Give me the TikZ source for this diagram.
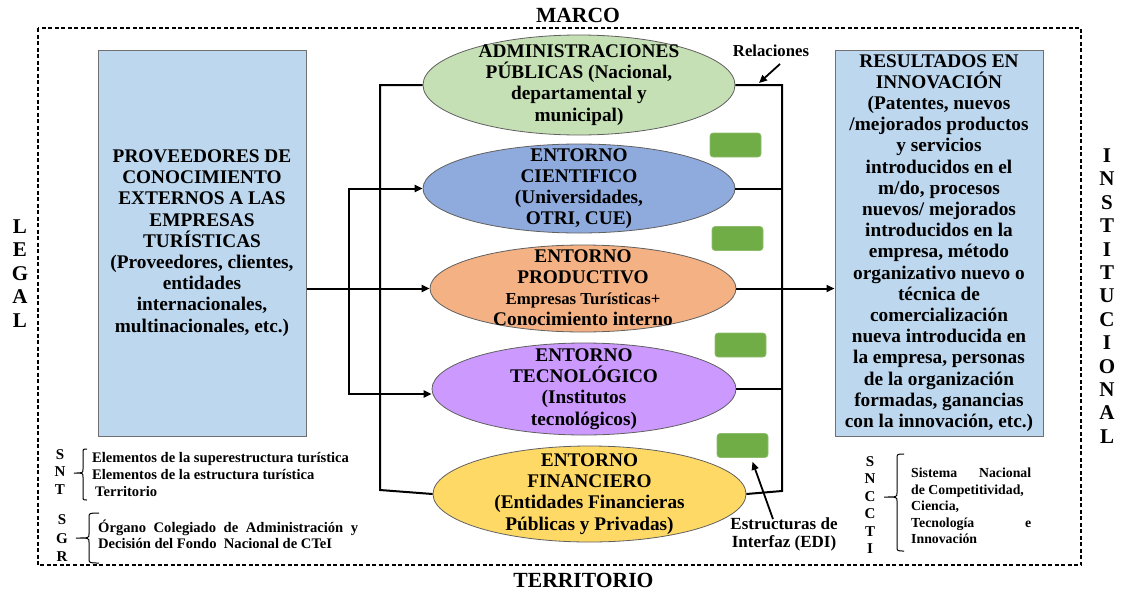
\documentclass[tikz,border=0pt]{standalone}
\usepackage{fontspec}
\setmainfont{Liberation Serif}
\usetikzlibrary{shapes.geometric,arrows.meta,calc}

\definecolor{boxblue}{HTML}{BDD7EE}
\definecolor{boxedge}{HTML}{707070}
\definecolor{elledge}{HTML}{606060}
\definecolor{admgreen}{HTML}{C5E0B4}
\definecolor{cieblue}{HTML}{8FAADC}
\definecolor{prodorange}{HTML}{F4B183}
\definecolor{tecpurple}{HTML}{CC99FF}
\definecolor{finyellow}{HTML}{FFD966}
\definecolor{edigreen}{HTML}{70AD47}

\begin{document}
\begin{tikzpicture}[x=1pt,y=-1pt,
  bigtext/.style={font=\bfseries\fontsize{19.3}{21.2}\selectfont, align=center, inner sep=0pt},
  sidebox/.style={draw=boxedge, line width=1pt, fill=boxblue, minimum width=208pt,
    minimum height=386pt, inner sep=0pt, bigtext},
  entorno/.style={ellipse, draw=elledge, line width=0.8pt, inner sep=0pt},
  edibox/.style={rounded corners=3pt, fill=edigreen, draw=edigreen!80!white, line width=0.6pt,
    minimum width=51pt, minimum height=24pt, inner sep=0pt},
  frametitle/.style={font=\bfseries\fontsize{21.6}{23.4}\selectfont, inner sep=0pt, align=center},
  vertword/.style={font=\bfseries\fontsize{21}{23.4}\selectfont, inner sep=0pt, align=center},
  sysletters/.style={font=\bfseries\fontsize{15}{17.4}\selectfont, inner sep=0pt, align=center},
  smalltext/.style={font=\bfseries\fontsize{14.6}{16.6}\selectfont, inner sep=0pt},
  notetext/.style={font=\bfseries\fontsize{17}{18}\selectfont, inner sep=0pt, align=center},
  link/.style={line width=2pt},
  arrowlink/.style={link, -{Triangle[length=8pt,width=7pt]}},
  bracket/.style={line width=1pt},
]
\useasboundingbox (0,0) rectangle (1122,592);

% outer dashed frame
\draw[line width=1.2pt, dash pattern=on 4pt off 2.5pt] (38,28) rectangle (1081,565);

% frame labels
\node[frametitle] (marco) at (578,15.5) {MARCO};
\node[frametitle] (territorio) at (583.5,580.5) {TERRITORIO};
\node[vertword] (legal) at (20,273.5) {L\\E\\G\\A\\L};
\node[vertword] (institucional) at (1107,296) {I\\N\\S\\T\\I\\T\\U\\C\\I\\O\\N\\A\\L};

% knowledge providers and innovation results
\node[sidebox] (prov) at (202,243) {PROVEEDORES DE\\CONOCIMIENTO\\EXTERNOS A LAS\\EMPRESAS\\TURÍSTICAS\\(Proveedores, clientes,\\entidades\\internacionales,\\multinacionales, etc.)};
\node[sidebox] (res) at (939,243) {RESULTADOS EN\\INNOVACIÓN\\(Patentes, nuevos\\/mejorados productos\\y servicios\\introducidos en el\\m/do, procesos\\nuevos/ mejorados\\introducidos en la\\empresa, método\\organizativo nuevo o\\técnica de\\comercialización\\nueva introducida en\\la empresa, personas\\de la organización\\formadas, ganancias\\con la innovación, etc.)};

% environments
\node[entorno, fill=admgreen, minimum width=312pt, minimum height=100pt] (adm) at (579,85) {};
\node[bigtext] at (adm) {ADMINISTRACIONES\\PÚBLICAS (Nacional,\\departamental y\\municipal)};

\node[entorno, fill=cieblue, minimum width=312pt, minimum height=89pt] (cie) at (579,188.5) {};
\node[bigtext] at (cie) {ENTORNO\\CIENTIFICO\\(Universidades,\\OTRI, CUE)};

\node[entorno, fill=prodorange, minimum width=306pt, minimum height=87pt] (prod) at (583,288.5) {};
\node[bigtext] at ([yshift=1pt]prod.center) {ENTORNO\\PRODUCTIVO\\{\fontsize{16.8}{18.5}\selectfont Empresas Turísticas+}\\Conocimiento interno};

\node[entorno, fill=tecpurple, minimum width=304pt, minimum height=92pt] (tec) at (584,389) {};
\node[bigtext] at (tec) {ENTORNO\\TECNOLÓGICO\\(Institutos\\tecnológicos)};

\node[entorno, fill=finyellow, minimum width=313pt, minimum height=96pt] (fin) at (589.5,494) {};
\node[bigtext] at (fin) {ENTORNO\\FINANCIERO\\(Entidades Financieras\\Públicas y Privadas)};

% interface structures
\node[edibox] (g1) at (735.5,145) {};
\node[edibox] (g2) at (737.5,238.5) {};
\node[edibox] (g3) at (740.5,345) {};
\node[edibox] (g4) at (742.5,445.5) {};

% junction points of the connector bus
\coordinate (jl) at (349,0);
\coordinate (jm) at (380,0);
\coordinate (jmb) at (380,490);
\coordinate (jr) at (782,0);
\coordinate (jrb) at (782,491);
\coordinate (tecin) at ([yshift=-5pt]tec.west);

% left side connectors
\draw[arrowlink] (prov.east |- prod.west) -- (prod.west);
\draw[link] (jl |- cie.west) -- (jl |- tecin);
\draw[arrowlink] ([xshift=-1pt]jl |- cie.west) -- (cie.west);
\draw[arrowlink] ([xshift=-1pt]jl |- tecin) -- (tecin);
\draw[link] (adm.west) -- (jm |- adm.west) -- (jmb) -- (fin.west);

% right side connectors
\draw[link] (adm.east) -- (jr |- adm.east) -- (jrb) -- (fin.east);
\draw[link] (cie.east) -- (jr |- cie.east);
\draw[link] (tec.east) -- (jr |- tec.east);
\draw[arrowlink] (prod.east) -- (res.west |- prod.east);

% annotations
\node[font=\bfseries\fontsize{16.7}{18}\selectfont, inner sep=0pt] (rel) at (771,51) {Relaciones};
\coordinate (relTail) at (780,64);
\coordinate (relTip) at (759,83);
\draw[arrowlink, line width=1.8pt] (relTail) -- (relTip);

\node[notetext] (edi) at (784,534) {Estructuras de\\Interfaz (EDI)};
\draw[arrowlink, line width=1.8pt] ([xshift=-11pt,yshift=-2pt]edi.north) -- ([xshift=10pt,yshift=-4pt]g4.south);

% national systems
\node[sysletters] (snt) at (60,472) {S\\N\\T};
\draw[bracket] (87,449) .. controls (83,449) .. (83,453) -- (83,469) .. controls (83,473) .. (74,473)
  .. controls (83,473) .. (83,477) -- (83,496) .. controls (83,500) .. (87,500);
\node[smalltext, anchor=west, align=left] (sntlist) at (92,474.5)
  {Elementos de la superestructura turística\\Elementos de la estructura turística\\\hspace*{3pt}Territorio};

\node[sysletters, font=\bfseries\fontsize{15}{18.5}\selectfont] (sgr) at (62,538.5) {S\\G\\R};
\draw[bracket] (99,513) .. controls (89,513) .. (89,518) -- (89,534) .. controls (89,538) .. (76,538)
  .. controls (89,538) .. (89,542) -- (89,558) .. controls (89,563) .. (99,563);
\node[smalltext, text width=260pt, align=justify, anchor=west] (sgrtext) at (98,534.5)
  {Órgano\ \ Colegiado\ \ de\ \ Administración\ \ y\linebreak Decisión del Fondo\ \ Nacional de CTeI};

\node[sysletters] (sncti) at (870,505) {S\\N\\C\\C\\T\\I};
\draw[bracket] (904,454) .. controls (897,454) .. (897,459) -- (897,493) .. controls (897,497) .. (884,497)
  .. controls (897,497) .. (897,501) -- (897,546) .. controls (897,551) .. (904,551);
\node[smalltext, font=\bfseries\fontsize{13.8}{16.5}\selectfont, text width=120pt, align=justify, anchor=west] (snctitext) at (911,506)
  {Sistema Nacional\linebreak de Competitividad,\\Ciencia,\\Tecnología e\linebreak Innovación};
\end{tikzpicture}
\end{document}
